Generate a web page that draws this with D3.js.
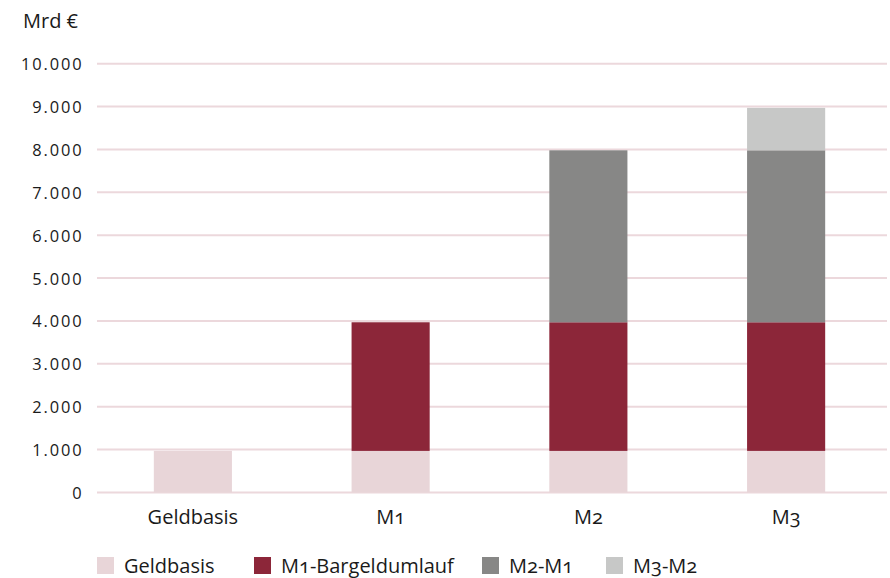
<!DOCTYPE html>
<html>
<head>
<meta charset="utf-8">
<script src="https://cdn.jsdelivr.net/npm/d3@7"></script>
<style>
  html, body { margin: 0; padding: 0; background: #ffffff; }
  svg { display: block; font-family: "Open Sans", sans-serif; }
</style>
</head>
<body>
<svg id="chart" width="890" height="578"></svg>
<script>
// ---- data ----
const categories = ["Geldbasis", "M1", "M2", "M3"];
const seriesNames = ["Geldbasis", "M1-Bargeldumlauf", "M2-M1", "M3-M2"];
const geldbasis      = [970, 970, 970, 970];
const m1Bargeld      = [0, 3000, 3000, 3000];
const m2MinusM1      = [0, 0, 4010, 4010];
const m3MinusM2      = [0, 0, 0, 990];
const yTicks = [0, 1000, 2000, 3000, 4000, 5000, 6000, 7000, 8000, 9000, 10000];
const yTickLabels = ["0", "1.000", "2.000", "3.000", "4.000", "5.000", "6.000", "7.000", "8.000", "9.000", "10.000"];
const unitLabel = "Mrd €";
const colors = ["#e8d5d8", "#8c2639", "#878786", "#c7c8c7"];

// ---- build table ----
const seriesValues = [geldbasis, m1Bargeld, m2MinusM1, m3MinusM2];
const rows = categories.map((c, i) => {
  const r = { cat: c };
  seriesNames.forEach((s, j) => r[s] = seriesValues[j][i]);
  return r;
});
const stacked = d3.stack().keys(seriesNames)(rows);

const FONT = "'Open Sans', sans-serif";
const svg = d3.select("#chart");
const x = d3.scaleBand().domain(categories).range([94, 885]).paddingInner(0.605).paddingOuter(0.3025);
const y = d3.scaleLinear().domain([0, 10000]).range([492.5, 63.7]);

// gridlines
svg.append("g").selectAll("line").data(yTicks).join("line")
  .attr("x1", 97).attr("x2", 887)
  .attr("y1", d => y(d)).attr("y2", d => y(d))
  .attr("stroke", "#ecd8dc").attr("stroke-width", 2);

// y axis labels
const yAxis = d3.axisLeft(y).tickValues(yTicks).tickFormat((d, i) => yTickLabels[i]).tickSize(0).tickPadding(0);
const ya = svg.append("g").attr("transform", "translate(83.5,0)").call(yAxis)
  .attr("font-family", FONT).attr("font-size", null);
ya.select(".domain").remove();
ya.selectAll("text")
  .attr("fill", "#1a1a1a")
  .style("font-size", "16.4px")
  .style("letter-spacing", "1.9px")
  .attr("dy", "0.36em");

// bars
svg.append("g").selectAll("g").data(stacked).join("g")
  .attr("fill", (d, i) => colors[i])
  .selectAll("rect").data(d => d.filter(p => p[1] - p[0] > 0)).join("rect")
  .attr("x", d => x(d.data.cat))
  .attr("width", x.bandwidth())
  .attr("y", d => y(d[1]))
  .attr("height", d => y(d[0]) - y(d[1]));

// x axis labels
const xAxis = d3.axisBottom(x).tickSize(0).tickPadding(0);
const xa = svg.append("g").attr("transform", "translate(0,524)").call(xAxis)
  .attr("font-family", FONT).attr("font-size", null);
xa.select(".domain").remove();
xa.selectAll("text")
  .attr("dy", 0).attr("y", 0)
  .attr("fill", "#1a1a1a")
  .style("font-size", "20px")
  .style("font-variant-numeric", "oldstyle-nums");

// unit label
svg.append("text").attr("x", 23).attr("y", 28)
  .attr("fill", "#1a1a1a").style("font-size", "20px").text(unitLabel);

// legend
const legendX = [97, 254, 482, 606];
const lg = svg.append("g").selectAll("g").data(seriesNames).join("g")
  .attr("transform", (d, i) => `translate(${legendX[i]},557)`);
lg.append("rect").attr("width", 17).attr("height", 17).attr("fill", (d, i) => colors[i]);
lg.append("text").attr("x", 27).attr("y", 16)
  .attr("fill", "#1a1a1a").style("font-size", "20px")
  .style("font-variant-numeric", "oldstyle-nums")
  .text(d => d);
</script>
</body>
</html>
